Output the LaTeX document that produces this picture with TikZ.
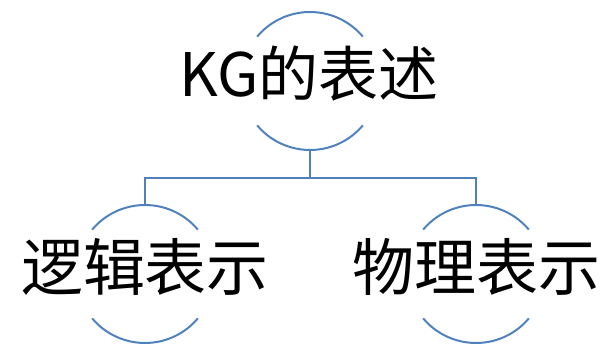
\documentclass[tikz,border=0pt]{standalone}
\usepackage{fontspec}
\usetikzlibrary{calc}
\newfontfamily\cjk{Noto Sans CJK SC}
\definecolor{arcblue}{HTML}{4F81BD}
\begin{document}
\begin{tikzpicture}[x=1pt,y=-1pt,
  arcline/.style={draw=arcblue,line width=2pt},
  label/.style={font=\cjk\fontsize{60}{60}\selectfont,inner sep=0pt,anchor=center},
  sublabel/.style={label,font=\cjk\fontsize{62}{62}\selectfont}]
\useasboundingbox (0,0) rectangle (603,344);
% circle centres
\coordinate (rc) at (310,81);
\coordinate (lc) at (145,274);
\coordinate (pc) at (476,274);
% texts
\node[label] (root) at (309,74) {KG的表述};
\node[sublabel] (logic) at (145,267) {逻辑表示};
\node[sublabel] (phys) at (476,267) {物理表示};
% arcs
\foreach \c in {rc,lc,pc}{
  \draw[arcline] ($(\c)+(140:69)$) arc[start angle=140,end angle=40,radius=69];
  \draw[arcline] ($(\c)+(220:69)$) arc[start angle=220,end angle=320,radius=69];
}
% connector points
\coordinate (rb) at ($(rc)+(0,69)$);
\coordinate (lt) at ($(lc)+(0,-69)$);
\coordinate (pt) at ($(pc)+(0,-69)$);
\coordinate (j) at (310,178);
\draw[arcline] (rb) -- (j);
\draw[arcline] (lt) |- (j) -| (pt);
\end{tikzpicture}
\end{document}
